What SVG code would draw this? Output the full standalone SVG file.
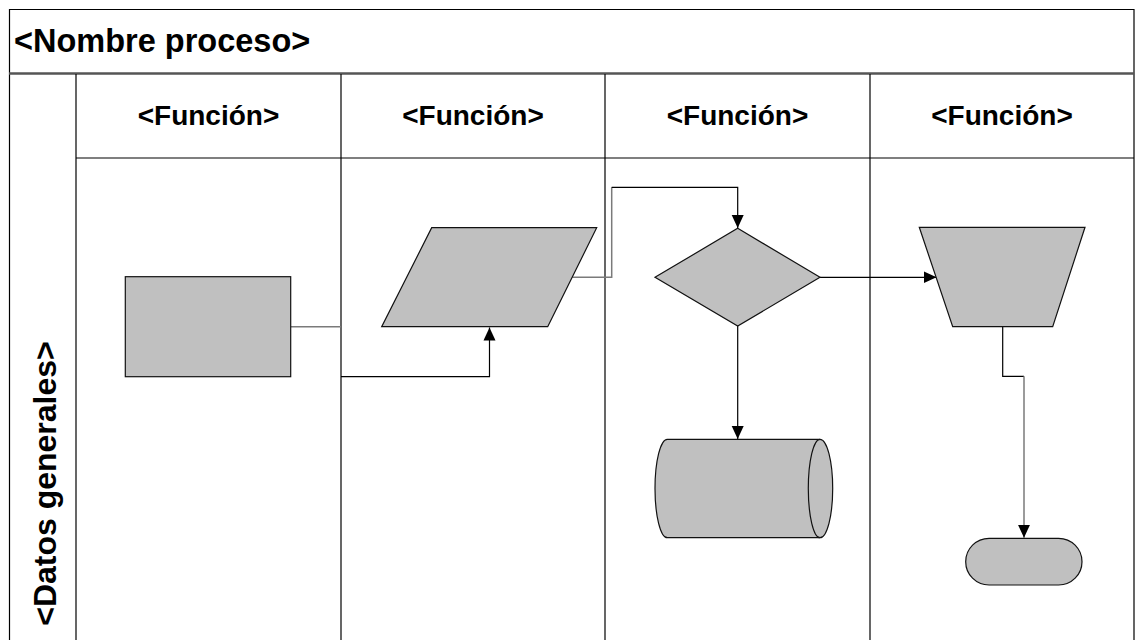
<svg xmlns="http://www.w3.org/2000/svg" width="1135" height="640" viewBox="0 0 1135 640">
  <style>
    .frame { fill: none; stroke: #000; stroke-width: 1.2; }
    .shape { fill: #c0c0c0; stroke: #111; stroke-width: 1.2; }
    .conn { fill: none; stroke: #000; stroke-width: 1.2; }
    .conn-g { fill: none; stroke: #7a7a7a; stroke-width: 1.5; }
    .title { font-family: "Liberation Sans", Arial, sans-serif; font-weight: bold; font-size: 32.5px; fill: #000; }
    .side { font-family: "Liberation Sans", Arial, sans-serif; font-weight: bold; font-size: 32px; fill: #000; text-anchor: middle; }
    .head { font-family: "Liberation Sans", Arial, sans-serif; font-weight: bold; font-size: 28px; fill: #000; text-anchor: middle; }
  </style>
  <defs>
    <marker id="arrow" markerUnits="userSpaceOnUse" markerWidth="14" markerHeight="14" refX="13" refY="7" orient="auto">
      <path d="M0,1 L13,7 L0,13 z" fill="#000"/>
    </marker>
  </defs>

  <rect width="1135" height="640" fill="#fff"/>

  <!-- pool frame, title band and lanes -->
  <g id="pool">
    <path class="frame" d="M9.5,645 V9.5 H1134 V645"/>
    <line x1="9" y1="73.5" x2="1134" y2="73.5" stroke="#555" stroke-width="2.5"/>
    <line class="frame" x1="76" y1="158" x2="1134" y2="158"/>
    <line class="frame" x1="76" y1="74" x2="76" y2="645"/>
    <line class="frame" x1="341" y1="74" x2="341" y2="645"/>
    <line class="frame" x1="605" y1="74" x2="605" y2="645"/>
    <line class="frame" x1="870" y1="74" x2="870" y2="645"/>
    <text class="title" x="14" y="52">&lt;Nombre proceso&gt;</text>
    <text class="head" x="208.5" y="125">&lt;Función&gt;</text>
    <text class="head" x="473" y="125">&lt;Función&gt;</text>
    <text class="head" x="737.5" y="125">&lt;Función&gt;</text>
    <text class="head" x="1002" y="125">&lt;Función&gt;</text>
    <text class="side" transform="translate(55.5,483.5) rotate(-90)">&lt;Datos generales&gt;</text>
  </g>

  <!-- connectors -->
  <g id="connectors">
    <line class="conn-g" x1="291" y1="326.7" x2="341" y2="326.7"/>
    <polyline class="conn" points="341,376.7 489.5,376.7 489.5,327.5" marker-end="url(#arrow)"/>
    <polyline class="conn-g" points="572.3,277.3 611.7,277.3 611.7,187.3"/>
    <polyline class="conn" points="611.7,187.3 737.7,187.3 737.7,228" marker-end="url(#arrow)"/>
    <line class="conn" x1="737.7" y1="326" x2="737.7" y2="439" marker-end="url(#arrow)"/>
    <line class="conn" x1="820" y1="277.3" x2="936.5" y2="277.3" marker-end="url(#arrow)"/>
    <polyline class="conn" points="1002.7,326.7 1002.7,376.3 1024,376.3"/>
    <line class="conn-g" x1="1024" y1="376.3" x2="1024" y2="537.8" marker-end="url(#arrow)"/>
  </g>

  <g id="process">
    <rect class="shape" x="125.3" y="276.7" width="165.4" height="100"/>
  </g>

  <g id="data">
    <polygon class="shape" points="431.7,227.7 596.7,227.7 547.7,326.7 381.7,326.7"/>
  </g>

  <g id="decision">
    <polygon class="shape" points="737.7,228.3 820,277.3 737.7,326 655,277.3"/>
  </g>

  <g id="storage">
    <path class="shape" d="M667.3,439.3 H820 A12.7,49.2 0 0 1 820,537.7 H667.3 A12.3,49.2 0 0 1 667.3,439.3 Z"/>
    <path class="shape" d="M820,439.3 A11.7,49.2 0 0 0 820,537.7" fill="none"/>
  </g>

  <g id="manual-op">
    <polygon class="shape" points="919.3,227.3 1085,227.3 1052.7,326.7 952.7,326.7"/>
  </g>

  <g id="terminator">
    <rect class="shape" x="965.7" y="538.3" width="116.3" height="46.7" rx="23.4" ry="23.4"/>
  </g>
</svg>
